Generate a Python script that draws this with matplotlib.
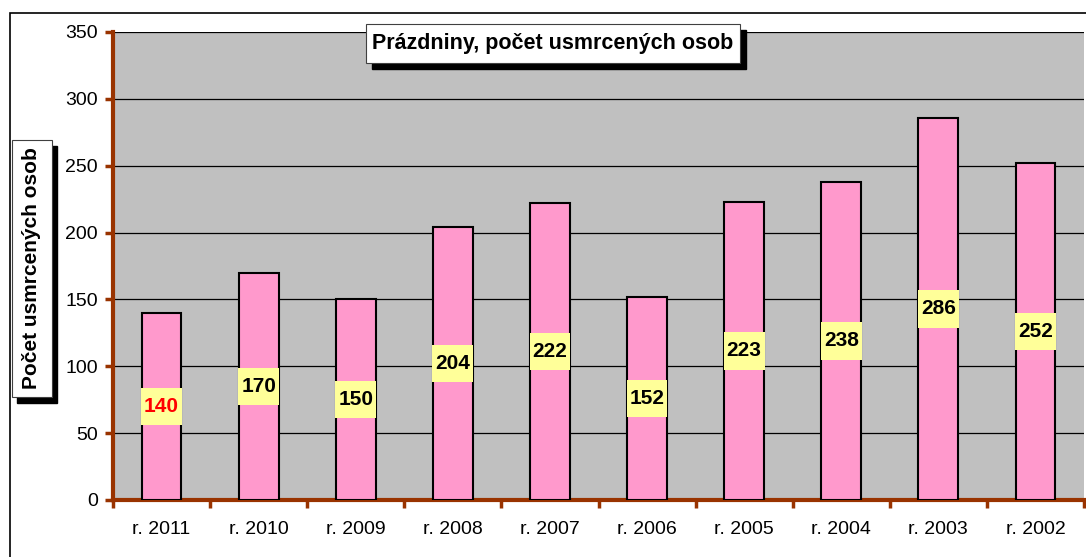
import numpy as np
import matplotlib.pyplot as plt
from matplotlib.patches import Rectangle

plt.rcParams['font.family'] = ['Liberation Sans', 'DejaVu Sans']

# data
roky = ['r. 2011', 'r. 2010', 'r. 2009', 'r. 2008', 'r. 2007',
        'r. 2006', 'r. 2005', 'r. 2004', 'r. 2003', 'r. 2002']
usmrceni = [140, 170, 150, 204, 222, 152, 223, 238, 286, 252]

hneda = '#993300'
W, H = 1086, 557

fig = plt.figure(figsize=(W / 100, H / 100), dpi=100)
ax = fig.add_axes([113/W, 57/H, 971/W, 468/H])


def box_px(x0, y0, x1, y1, **kw):
    # rectangle given in pixels from the top-left corner
    r = Rectangle((x0 / W, 1 - y1 / H), (x1 - x0) / W, (y1 - y0) / H,
                  transform=fig.transFigure, **kw)
    fig.patches.append(r)


# outer frame of the chart
box_px(10, 13, 1200, 650, fill=False, edgecolor='black', linewidth=1.2, zorder=0)

x = np.arange(len(roky))
ax.set_facecolor('#C0C0C0')
ax.bar(x, usmrceni, width=0.41, color='#FF99CC', edgecolor='black',
       linewidth=1.5, zorder=3)

ax.set_xlim(-0.5, len(roky) - 0.5)
ax.set_ylim(0, 350)
ax.set_yticks(np.arange(0, 351, 50))
ax.yaxis.grid(True, color='black', linewidth=0.9, zorder=1)
ax.set_axisbelow(True)

ax.set_xticks(x)
ax.set_xticklabels(roky, fontsize=14)
ax.set_xticks(np.arange(-0.5, len(roky)), minor=True)
ax.tick_params(axis='x', which='major', length=0, pad=15)
ax.tick_params(axis='x', which='minor', length=6, width=2.5, color=hneda)
ax.tick_params(axis='y', length=6, width=2.5, color=hneda, labelsize=14, pad=5)

for s in ['left', 'bottom']:
    ax.spines[s].set_color(hneda)
    ax.spines[s].set_linewidth(3)
ax.spines['top'].set_visible(False)
ax.spines['right'].set_visible(False)

# value labels in the middle of each bar, on yellow boxes
box_w = 0.42
box_h = 28
for i, v in enumerate(usmrceni):
    barva = 'red' if i == 0 else 'black'
    ax.add_patch(Rectangle((i - box_w / 2, v / 2 - box_h / 2), box_w, box_h,
                           facecolor='#FFFF99', edgecolor='none', zorder=4))
    ax.text(i, v / 2, str(v), ha='center', va='center', fontsize=15,
            fontweight='bold', color=barva, zorder=5)

# title box with shadow
box_px(372, 30, 746, 69, facecolor='black', edgecolor='black', zorder=5)
box_px(366, 24, 740, 63, facecolor='white', edgecolor='#404040', linewidth=0.8, zorder=6)
fig.text(553 / W, 1 - 44 / H, 'Prázdniny, počet usmrcených osob',
         ha='center', va='center', fontsize=15.5, fontweight='bold', zorder=7)

# y-axis label box with shadow
box_px(17, 146, 57, 403, facecolor='black', edgecolor='black', zorder=5)
box_px(12, 140, 52, 397, facecolor='white', edgecolor='#404040', linewidth=0.8, zorder=6)
fig.text(32 / W, 1 - 268 / H, 'Počet usmrcených osob', rotation=90,
         ha='center', va='center', fontsize=15, fontweight='bold', zorder=7)

fig.savefig('out.png', dpi=100)
